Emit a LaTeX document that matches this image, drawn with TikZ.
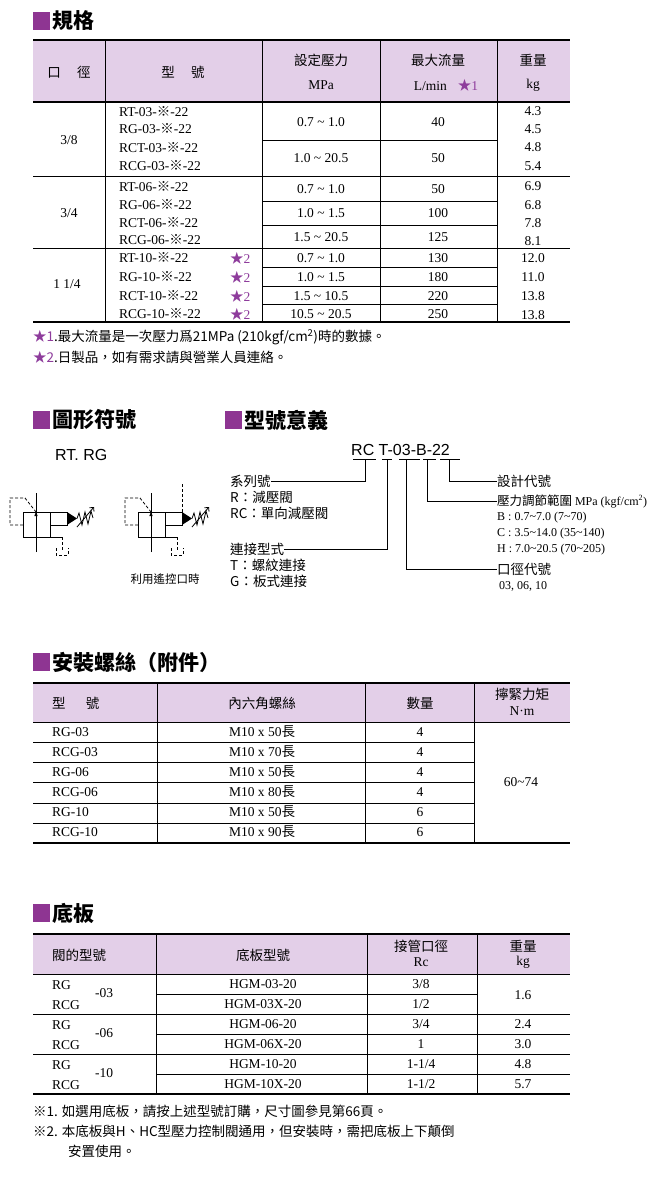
\documentclass[tikz,border=0pt]{standalone}
\usepackage{fontspec}
\setmainfont{Liberation Serif}
\setsansfont{Liberation Sans}
\newfontfamily\cjk{Noto Sans CJK TC}
\usetikzlibrary{arrows.meta}
\definecolor{hdr}{HTML}{E3CFE8}
\definecolor{sq}{HTML}{8E3592}
\definecolor{st}{HTML}{8E3C9C}
\newcommand{\km}{{\cjk ※}}
\newcommand{\sta}[1]{{\color{st}\cjk ★}{\color{st}#1}}
\begin{document}
\begin{tikzpicture}[x=1pt,y=-1pt,
  tx/.style={inner sep=0pt,font=\fontsize{13.5}{14}\selectfont},
  cj/.style={inner sep=0pt,font=\fontsize{13.5}{15}\cjk},
  hd/.style={inner sep=0pt,font=\fontsize{21}{24}\cjk\bfseries,anchor=west},
  thick1/.style={line width=1.6pt},
  thin1/.style={line width=0.7pt},
  sym/.style={line width=0.8pt},
  dsh/.style={line width=0.8pt,dash pattern=on 3pt off 2pt}]
\useasboundingbox (0,0) rectangle (660,1200);
% ---------- headings
\newcommand{\heading}[4]{\fill[sq] (#1,#2-9) rectangle ++(17,18); \node[hd] (#4) at (#1+19,#2) {#3};}
\heading{33}{21}{規格}{h1}
\heading{33}{420}{圖形符號}{h2}
\heading{225}{420}{型號意義}{h3}
\heading{33}{662}{安裝螺絲（附件）}{h4}
\heading{33}{913}{底板}{h5}
% ---------- table 1
\fill[hdr] (33,40) rectangle (570,102);
\draw[thick1] (33,40) -- (570,40); \draw[thick1] (33,102) -- (570,102); \draw[thick1] (33,322) -- (570,322);
\foreach \x in {105,262,380,497} \draw[thin1] (\x,40) -- (\x,322);
\draw[thin1] (33,176) -- (570,176); \draw[thin1] (33,248) -- (570,248);
\foreach \y in {140,201,225,267,286,304} \draw[thin1] (262,\y) -- (497,\y);
\node[cj] (a1) at (69,72) {口\hspace{1.2em}徑};
\node[cj] (a2) at (183,72) {型\hspace{1.2em}號};
\node[cj] (a3) at (321,60) {設定壓力};
\node[tx] (a4) at (321,85) {MPa};
\node[cj] (a5) at (438,60) {最大流量};
\node[tx] (a6) at (446,85) {L/min\hspace{0.8em}\sta{1}};
\node[cj] (a7) at (533,60) {重量};
\node[tx] (a8) at (533,85) {kg};
% group 1
\node[tx] at (69,140) {3/8};
\node[tx,anchor=west] at (119,112) {RT-03-\km-22};
\node[tx,anchor=west] at (119,129) {RG-03-\km-22};
\node[tx,anchor=west] at (119,148) {RCT-03-\km-22};
\node[tx,anchor=west] at (119,166) {RCG-03-\km-22};
\node[tx] at (321,122) {0.7 \char`~{} 1.0}; \node[tx] at (438,122) {40};
\node[tx] at (321,158) {1.0 \char`~{} 20.5}; \node[tx] at (438,158) {50};
\node[tx] at (533,111) {4.3}; \node[tx] at (533,129) {4.5}; \node[tx] at (533,147) {4.8}; \node[tx] at (533,166) {5.4};
% group 2
\node[tx] at (69,213) {3/4};
\node[tx,anchor=west] at (119,187) {RT-06-\km-22};
\node[tx,anchor=west] at (119,205) {RG-06-\km-22};
\node[tx,anchor=west] at (119,223) {RCT-06-\km-22};
\node[tx,anchor=west] at (119,240) {RCG-06-\km-22};
\node[tx] at (321,189) {0.7 \char`~{} 1.0}; \node[tx] at (438,189) {50};
\node[tx] at (321,213) {1.0 \char`~{} 1.5}; \node[tx] at (438,213) {100};
\node[tx] at (321,237) {1.5 \char`~{} 20.5}; \node[tx] at (438,237) {125};
\node[tx] at (533,186) {6.9}; \node[tx] at (533,205) {6.8}; \node[tx] at (533,223) {7.8}; \node[tx] at (533,241) {8.1};
% group 3
\node[tx] at (67,284) {1 1/4};
\foreach \m/\y in {RT/258,RG/277,RCT/296,RCG/314}{
  \node[tx,anchor=west] at (119,\y) {\m-10-\km-22};
  \node[tx,anchor=west] at (230,\y) {\sta{2}};}
\node[tx] at (321,258) {0.7 \char`~{} 1.0}; \node[tx] at (438,258) {130};
\node[tx] at (321,277) {1.0 \char`~{} 1.5}; \node[tx] at (438,277) {180};
\node[tx] at (321,296) {1.5 \char`~{} 10.5}; \node[tx] at (438,296) {220};
\node[tx] at (321,314) {10.5 \char`~{} 20.5}; \node[tx] at (438,314) {250};
\node[tx] at (533,258) {12.0}; \node[tx] at (533,277) {11.0}; \node[tx] at (533,296) {13.8}; \node[tx] at (533,315) {13.8};
\node[cj,anchor=west] (n1) at (33,337) {\sta{1}.最大流量是一次壓力爲21MPa (210kgf/cm\textsuperscript{2})時的數據。};
\node[cj,anchor=west] (n2) at (33,357) {\sta{2}.日製品，如有需求請與營業人員連絡。};
% ---------- symbols
\node[inner sep=0pt,anchor=west,font=\fontsize{16}{18}\sffamily] (rtrg) at (55,455) {RT. RG};
\foreach \o/\r in {0/0,115/1}{
\begin{scope}[xshift=\o]
\draw[sym] (23,512) rectangle (50,537);
\draw[sym] (50,512) -- (67,512) -- (67,525) -- (50,525);
\fill (67,512) -- (77,518.5) -- (67,525) -- cycle;
\draw[sym] (36,552) -- (36,493);
\draw[sym,-{Latex[length=5pt,width=3.5pt]}] (36,537) -- (36,511);
\draw[sym] (77,518.5) -- (79,513) -- (82,525) -- (85,512) -- (88,524) -- (91,511) -- (93,518);
\draw[sym,-{Straight Barb[length=3pt]}] (77,527) -- (94,507);
\draw[sym] (50,537) -- (62,537);
\draw[dsh] (62,537) -- (62,551);
\draw[dsh] (56,548) -- (56,555) -- (68,555) -- (68,548);
\draw[dsh] (23,525) -- (10,525) -- (10,498) -- (25,498) -- (36,512);
\ifnum\r=1 \draw[dsh] (67,484) -- (67,512); \fi
\end{scope}}
\node[cj,font=\fontsize{11.5}{12}\cjk] (cap) at (165,579) {利用遙控口時};
% ---------- model code
\node[inner sep=0pt,anchor=base west,font=\fontsize{16}{17}\sffamily] (code) at (351,455) {RC T-03-B-22};
\coordinate (uRC) at (365,459); \coordinate (uT) at (387,459); \coordinate (u03) at (406,459);
\coordinate (uB) at (427,459); \coordinate (u22) at (449,459);
\foreach \a/\b in {353/376,382/392,399/420,423/436,440/460} \draw[thin1] (\a,459) -- (\b,459);
\node[cj,anchor=west] (s1) at (230,481) {系列號};
\node[cj,anchor=west] (s2) at (230,497) {R：減壓閥};
\node[cj,anchor=west] (s3) at (230,513) {RC：單向減壓閥};
\node[cj,anchor=west] (c1) at (230,549) {連接型式};
\node[cj,anchor=west] (c2) at (230,565) {T：螺紋連接};
\node[cj,anchor=west] (c3) at (230,581) {G：板式連接};
\node[cj,anchor=west] (d1) at (497,481) {設計代號};
\node[cj,anchor=west,font=\fontsize{12.5}{14}\cjk] (p1) at (497,501) {壓力調節範圍 {\rmfamily\fontsize{12}{14}\selectfont MPa (kgf/cm\textsuperscript{2})}};
\node[tx,anchor=west,font=\fontsize{12}{13}\selectfont] (p2) at (497,518) {B : 0.7\char`~7.0 (7\char`~70)};
\node[tx,anchor=west,font=\fontsize{12}{13}\selectfont] (p3) at (497,534) {C : 3.5\char`~14.0 (35\char`~140)};
\node[tx,anchor=west,font=\fontsize{12}{13}\selectfont] (p4) at (497,550) {H : 7.0\char`~20.5 (70\char`~205)};
\node[cj,anchor=west] (k1) at (497,569) {口徑代號};
\node[tx,anchor=west,font=\fontsize{12}{13}\selectfont] (k2) at (499,586) {03, 06, 10};
\draw[thin1] (uRC) |- (s1.east);
\draw[thin1] (uT) |- (c1.east);
\draw[thin1] (u03) |- (k1.west);
\draw[thin1] (uB) |- (p1.west);
\draw[thin1] (u22) |- (d1.west);
% ---------- table 3
\fill[hdr] (33,683) rectangle (570,722);
\draw[thick1] (33,683) -- (570,683); \draw[thin1] (33,722) -- (570,722); \draw[thick1] (33,843) -- (570,843);
\foreach \x in {157,365,474} \draw[thin1] (\x,683) -- (\x,843);
\foreach \y in {742,762,782,803,823} \draw[thin1] (33,\y) -- (474,\y);
\node[cj,anchor=west] at (52,703) {型\hspace{1.5em}號};
\node[cj] at (262,703) {內六角螺絲};
\node[cj] at (420,703) {數量};
\node[cj] at (522,694) {擰緊力矩};
\node[tx] at (522,711) {N·m};
\foreach \m/\l/\q [count=\i] in {RG-03/50/4,RCG-03/70/4,RG-06/50/4,RCG-06/80/4,RG-10/50/6,RCG-10/90/6}{
  \node[tx,anchor=west] at (52,712+20*\i) {\m};
  \node[tx] at (262,712+20*\i) {M10 x \l{\cjk 長}};
  \node[tx] at (420,712+20*\i) {\q};}
\node[tx] at (521,782) {60\char`~74};
% ---------- table 4
\fill[hdr] (33,934) rectangle (570,974);
\draw[thick1] (33,934) -- (570,934); \draw[thin1] (33,974) -- (570,974); \draw[thick1] (33,1094) -- (570,1094);
\foreach \x in {156,367,477} \draw[thin1] (\x,934) -- (\x,1094);
\draw[thin1] (33,1014) -- (570,1014); \draw[thin1] (33,1054) -- (570,1054);
\draw[thin1] (156,994) -- (477,994); \draw[thin1] (156,1034) -- (570,1034); \draw[thin1] (156,1074) -- (570,1074);
\node[cj,anchor=west] at (52,955) {閥的型號};
\node[cj] at (263,955) {底板型號};
\node[cj] at (421,946) {接管口徑};
\node[tx] at (421,962) {Rc};
\node[cj] at (523,946) {重量};
\node[tx] at (523,962) {kg};
\foreach \g/\y in {03/974,06/1014,10/1054}{
  \node[tx,anchor=west] at (52,\y+11) {RG};
  \node[tx,anchor=west] at (52,\y+31) {RCG};
  \node[tx,anchor=west] at (95,\y+19) {-\g};}
\foreach \p/\r [count=\i] in {HGM-03-20/{3/8},HGM-03X-20/{1/2},HGM-06-20/{3/4},HGM-06X-20/{1},HGM-10-20/{1-1/4},HGM-10X-20/{1-1/2}}{
  \node[tx] at (263,964+20*\i) {\p};
  \node[tx] at (421,964+20*\i) {\r};}
\node[tx] at (523,995) {1.6};
\node[tx] at (523,1024) {2.4}; \node[tx] at (523,1044) {3.0};
\node[tx] at (523,1064) {4.8}; \node[tx] at (523,1084) {5.7};
\node[cj,anchor=west] (m1) at (33,1111) {※1. 如選用底板，請按上述型號訂購，尺寸圖參見第66頁。};
\node[cj,anchor=west] (m2) at (33,1131) {※2. 本底板與H、HC型壓力控制閥通用，但安裝時，需把底板上下顛倒};
\node[cj,anchor=west] (m3) at (68,1151) {安置使用。};
\end{tikzpicture}
\end{document}
